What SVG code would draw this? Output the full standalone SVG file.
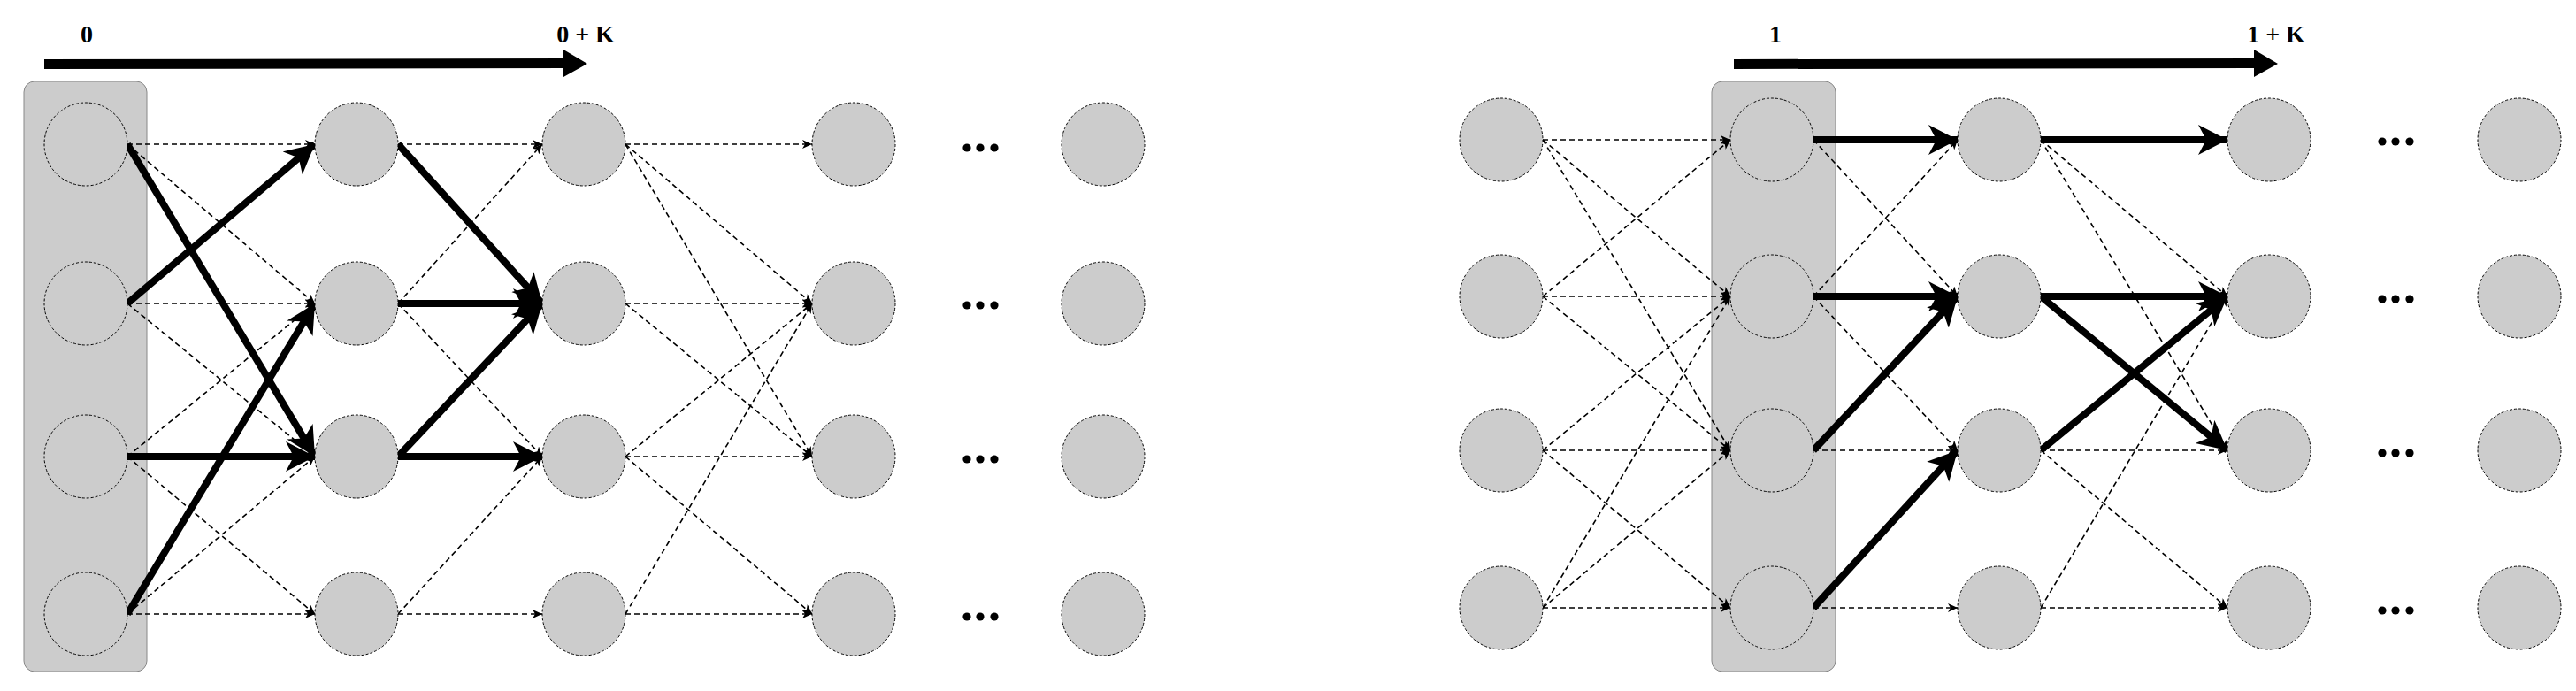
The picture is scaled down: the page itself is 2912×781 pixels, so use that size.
<svg xmlns="http://www.w3.org/2000/svg" width="2912" height="781" viewBox="0 0 2912 781">
<style>
.n{fill:#cccccc;stroke:#000;stroke-width:1;stroke-dasharray:3,2}
.d{stroke:#000;stroke-width:1.6;stroke-dasharray:6,4;fill:none;marker-end:url(#sa)}
.t{stroke:#000;stroke-width:8;fill:none;marker-end:url(#ba)}
.lbl{font-family:"Liberation Serif",serif;font-weight:bold;font-size:28px;fill:#000}
.band{fill:#cccccc;stroke:#888;stroke-width:1}
.dot{fill:#000}
</style>
<defs>
<marker id="sa" markerUnits="userSpaceOnUse" markerWidth="12" markerHeight="10" refX="11" refY="5" orient="auto"><path d="M0,0 L11,5 L0,10 L3,5 z" fill="#000"/></marker>
<marker id="ba" markerUnits="userSpaceOnUse" markerWidth="36" markerHeight="36" refX="33" refY="17" orient="auto"><path d="M0,0 L33,17 L0,34 L9,17 z" fill="#000"/></marker>
</defs>
<g id="bands">
<rect class="band" x="27" y="92" width="139" height="667" rx="12"/>
<rect class="band" x="1935" y="92" width="140" height="667" rx="12" stroke="none"/>
</g>
<g id="timeline">
<polygon points="50,67 637,66 637,56 664,72 637,87 637,77 50,78" fill="#000"/>
<text class="lbl" x="98" y="48" text-anchor="middle">0</text>
<text class="lbl" x="662" y="48" text-anchor="middle">0 + K</text>
<polygon points="1960,67 2548,66 2548,56 2575,72 2548,87 2548,77 1960,78" fill="#000"/>
<text class="lbl" x="2007" y="48" text-anchor="middle">1</text>
<text class="lbl" x="2573" y="48" text-anchor="middle">1 + K</text>
</g>
<g id="connectors">
<!-- left c0->c1 -->
<line class="d" x1="144" y1="163" x2="356" y2="163"/>
<line class="d" x1="144" y1="163" x2="356" y2="343"/>
<line class="d" x1="144" y1="343" x2="356" y2="343"/>
<line class="d" x1="144" y1="343" x2="356" y2="516"/>
<line class="d" x1="144" y1="516" x2="356" y2="343"/>
<line class="d" x1="144" y1="516" x2="356" y2="694"/>
<line class="d" x1="144" y1="694" x2="356" y2="516"/>
<line class="d" x1="144" y1="694" x2="356" y2="694"/>
<line class="t" x1="144" y1="163" x2="356" y2="516"/>
<line class="t" x1="144" y1="343" x2="356" y2="163"/>
<line class="t" x1="144" y1="516" x2="356" y2="516"/>
<line class="t" x1="144" y1="694" x2="356" y2="343"/>
<!-- left c1->c2 -->
<line class="d" x1="450" y1="163" x2="613" y2="163"/>
<line class="d" x1="450" y1="343" x2="613" y2="163"/>
<line class="d" x1="450" y1="343" x2="613" y2="516"/>
<line class="d" x1="450" y1="694" x2="613" y2="516"/>
<line class="d" x1="450" y1="694" x2="613" y2="694"/>
<line class="t" x1="450" y1="163" x2="613" y2="343"/>
<line class="t" x1="450" y1="343" x2="613" y2="343"/>
<line class="t" x1="450" y1="516" x2="613" y2="343"/>
<line class="t" x1="450" y1="516" x2="613" y2="516"/>
<!-- left c2->c3 -->
<line class="d" x1="707" y1="163" x2="918" y2="163"/>
<line class="d" x1="707" y1="163" x2="918" y2="343"/>
<line class="d" x1="707" y1="163" x2="918" y2="516"/>
<line class="d" x1="707" y1="343" x2="918" y2="343"/>
<line class="d" x1="707" y1="343" x2="918" y2="516"/>
<line class="d" x1="707" y1="516" x2="918" y2="343"/>
<line class="d" x1="707" y1="516" x2="918" y2="516"/>
<line class="d" x1="707" y1="516" x2="918" y2="694"/>
<line class="d" x1="707" y1="694" x2="918" y2="343"/>
<line class="d" x1="707" y1="694" x2="918" y2="694"/>
<!-- right c0->c1 -->
<line class="d" x1="1744" y1="158" x2="1956" y2="158"/>
<line class="d" x1="1744" y1="158" x2="1956" y2="335"/>
<line class="d" x1="1744" y1="158" x2="1956" y2="509"/>
<line class="d" x1="1744" y1="335" x2="1956" y2="158"/>
<line class="d" x1="1744" y1="335" x2="1956" y2="335"/>
<line class="d" x1="1744" y1="335" x2="1956" y2="509"/>
<line class="d" x1="1744" y1="509" x2="1956" y2="335"/>
<line class="d" x1="1744" y1="509" x2="1956" y2="509"/>
<line class="d" x1="1744" y1="509" x2="1956" y2="687"/>
<line class="d" x1="1744" y1="687" x2="1956" y2="335"/>
<line class="d" x1="1744" y1="687" x2="1956" y2="509"/>
<line class="d" x1="1744" y1="687" x2="1956" y2="687"/>
<!-- right c1->c2 -->
<line class="d" x1="2050" y1="158" x2="2213" y2="335"/>
<line class="d" x1="2050" y1="335" x2="2213" y2="158"/>
<line class="d" x1="2050" y1="335" x2="2213" y2="509"/>
<line class="d" x1="2050" y1="509" x2="2213" y2="509"/>
<line class="d" x1="2050" y1="687" x2="2213" y2="687"/>
<line class="t" x1="2050" y1="158" x2="2213" y2="158"/>
<line class="t" x1="2050" y1="335" x2="2213" y2="335"/>
<line class="t" x1="2050" y1="509" x2="2213" y2="335"/>
<line class="t" x1="2050" y1="687" x2="2213" y2="509"/>
<!-- right c2->c3 -->
<line class="d" x1="2307" y1="158" x2="2518" y2="335"/>
<line class="d" x1="2307" y1="158" x2="2518" y2="509"/>
<line class="d" x1="2307" y1="509" x2="2518" y2="509"/>
<line class="d" x1="2307" y1="509" x2="2518" y2="687"/>
<line class="d" x1="2307" y1="687" x2="2518" y2="335"/>
<line class="d" x1="2307" y1="687" x2="2518" y2="687"/>
<line class="t" x1="2307" y1="158" x2="2518" y2="158"/>
<line class="t" x1="2307" y1="335" x2="2518" y2="335"/>
<line class="t" x1="2307" y1="335" x2="2518" y2="509"/>
<line class="t" x1="2307" y1="509" x2="2518" y2="335"/>
</g>
<g id="left-nodes">
<g id="L00"><circle class="n" cx="97" cy="163" r="47"/></g>
<g id="L01"><circle class="n" cx="97" cy="343" r="47"/></g>
<g id="L02"><circle class="n" cx="97" cy="516" r="47"/></g>
<g id="L03"><circle class="n" cx="97" cy="694" r="47"/></g>
<g id="L10"><circle class="n" cx="403" cy="163" r="47"/></g>
<g id="L11"><circle class="n" cx="403" cy="343" r="47"/></g>
<g id="L12"><circle class="n" cx="403" cy="516" r="47"/></g>
<g id="L13"><circle class="n" cx="403" cy="694" r="47"/></g>
<g id="L20"><circle class="n" cx="660" cy="163" r="47"/></g>
<g id="L21"><circle class="n" cx="660" cy="343" r="47"/></g>
<g id="L22"><circle class="n" cx="660" cy="516" r="47"/></g>
<g id="L23"><circle class="n" cx="660" cy="694" r="47"/></g>
<g id="L30"><circle class="n" cx="965" cy="163" r="47"/></g>
<g id="L31"><circle class="n" cx="965" cy="343" r="47"/></g>
<g id="L32"><circle class="n" cx="965" cy="516" r="47"/></g>
<g id="L33"><circle class="n" cx="965" cy="694" r="47"/></g>
<g id="L40"><circle class="n" cx="1247" cy="163" r="47"/></g>
<g id="L41"><circle class="n" cx="1247" cy="343" r="47"/></g>
<g id="L42"><circle class="n" cx="1247" cy="516" r="47"/></g>
<g id="L43"><circle class="n" cx="1247" cy="694" r="47"/></g>
</g>
<g id="left-dots">
<circle class="dot" cx="1093" cy="167" r="4.6"/><circle class="dot" cx="1108" cy="167" r="4.6"/><circle class="dot" cx="1124" cy="167" r="4.6"/>
<circle class="dot" cx="1093" cy="345" r="4.6"/><circle class="dot" cx="1108" cy="345" r="4.6"/><circle class="dot" cx="1124" cy="345" r="4.6"/>
<circle class="dot" cx="1093" cy="519" r="4.6"/><circle class="dot" cx="1108" cy="519" r="4.6"/><circle class="dot" cx="1124" cy="519" r="4.6"/>
<circle class="dot" cx="1093" cy="697" r="4.6"/><circle class="dot" cx="1108" cy="697" r="4.6"/><circle class="dot" cx="1124" cy="697" r="4.6"/>
</g>
<g id="right-nodes">
<g id="R00"><circle class="n" cx="1697" cy="158" r="47"/></g>
<g id="R01"><circle class="n" cx="1697" cy="335" r="47"/></g>
<g id="R02"><circle class="n" cx="1697" cy="509" r="47"/></g>
<g id="R03"><circle class="n" cx="1697" cy="687" r="47"/></g>
<g id="R10"><circle class="n" cx="2003" cy="158" r="47"/></g>
<g id="R11"><circle class="n" cx="2003" cy="335" r="47"/></g>
<g id="R12"><circle class="n" cx="2003" cy="509" r="47"/></g>
<g id="R13"><circle class="n" cx="2003" cy="687" r="47"/></g>
<g id="R20"><circle class="n" cx="2260" cy="158" r="47"/></g>
<g id="R21"><circle class="n" cx="2260" cy="335" r="47"/></g>
<g id="R22"><circle class="n" cx="2260" cy="509" r="47"/></g>
<g id="R23"><circle class="n" cx="2260" cy="687" r="47"/></g>
<g id="R30"><circle class="n" cx="2565" cy="158" r="47"/></g>
<g id="R31"><circle class="n" cx="2565" cy="335" r="47"/></g>
<g id="R32"><circle class="n" cx="2565" cy="509" r="47"/></g>
<g id="R33"><circle class="n" cx="2565" cy="687" r="47"/></g>
<g id="R40"><circle class="n" cx="2848" cy="158" r="47"/></g>
<g id="R41"><circle class="n" cx="2848" cy="335" r="47"/></g>
<g id="R42"><circle class="n" cx="2848" cy="509" r="47"/></g>
<g id="R43"><circle class="n" cx="2848" cy="687" r="47"/></g>
</g>
<g id="right-dots">
<circle class="dot" cx="2693" cy="160" r="4.6"/><circle class="dot" cx="2708" cy="160" r="4.6"/><circle class="dot" cx="2724" cy="160" r="4.6"/>
<circle class="dot" cx="2693" cy="338" r="4.6"/><circle class="dot" cx="2708" cy="338" r="4.6"/><circle class="dot" cx="2724" cy="338" r="4.6"/>
<circle class="dot" cx="2693" cy="512" r="4.6"/><circle class="dot" cx="2708" cy="512" r="4.6"/><circle class="dot" cx="2724" cy="512" r="4.6"/>
<circle class="dot" cx="2693" cy="690" r="4.6"/><circle class="dot" cx="2708" cy="690" r="4.6"/><circle class="dot" cx="2724" cy="690" r="4.6"/>
</g>
</svg>
